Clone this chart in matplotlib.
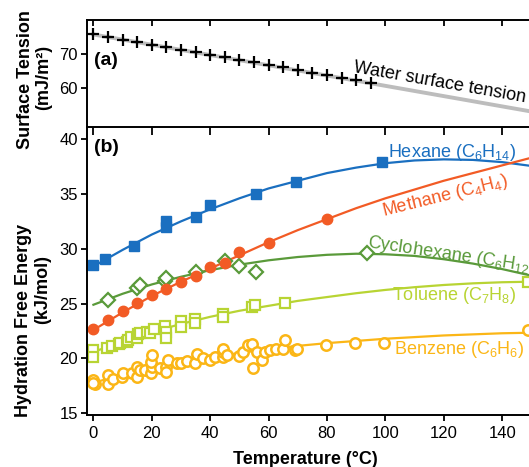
import matplotlib
matplotlib.use('Agg')
import matplotlib.pyplot as plt

plt.rcParams['font.family'] = ['Liberation Sans', 'DejaVu Sans']
plt.rcParams['mathtext.fontset'] = 'custom'
plt.rcParams['mathtext.rm'] = 'Liberation Sans'
plt.rcParams['mathtext.it'] = 'Liberation Sans:italic'
plt.rcParams['mathtext.bf'] = 'Liberation Sans:bold'

# --- (a) water surface tension ---
water_T = [0, 5, 10, 15, 20, 25, 30, 35, 40, 45, 50, 55, 60, 65, 70, 75, 80, 85, 90, 95]
water_st = [75.8, 75.1, 74.3, 73.5, 72.8, 72.0, 71.3, 70.5, 69.8, 69.0,
            68.2, 67.5, 66.7, 66.0, 65.2, 64.4, 63.7, 62.9, 62.2, 61.4]
water_line_T = [0, 150]
water_line_st = [75.8, 52.9]

# --- (b) hydration free energy, measured points ---
hexane_T = [0, 4, 14, 25, 25, 35, 40, 55.6, 69.4, 98.8]
hexane_G = [28.55, 29.05, 30.25, 32.0, 32.55, 32.9, 34.0, 35.0, 36.1, 37.9]

methane_T = [0, 5, 10, 15, 20, 25, 30, 35, 40, 45, 50, 60, 80]
methane_G = [22.7, 23.5, 24.3, 25.1, 25.75, 26.35, 26.95, 27.55, 28.35, 28.7, 29.7, 30.55, 32.7]

cyclohexane_T = [5, 15, 16, 24.5, 25, 35, 45, 50, 55.7, 93.8]
cyclohexane_G = [25.3, 26.4, 26.7, 27.1, 27.3, 27.9, 28.9, 28.4, 27.9, 29.65]

toluene_T = [0, 0, 4.6, 6.3, 8.6, 9.1, 11.4, 12, 13, 15, 15.4, 16, 18.3, 19.4, 20.8,
             24.5, 25, 25, 30, 30, 34.8, 34.8, 44.5, 44.5, 54.2, 55.4, 65.6, 149]
toluene_G = [20.8, 20.1, 20.95, 21.15, 21.3, 21.4, 21.5, 21.7, 22.0, 21.85, 22.2, 22.3, 22.45, 22.3, 22.65,
             22.95, 22.4, 21.9, 23.45, 22.85, 23.6, 23.25, 24.1, 23.8, 24.65, 24.85, 25.1, 27.0]

benzene_T = [0, 0.6, 0, 5.1, 5.1, 6.8, 9.7, 10.3, 13.1, 15, 15, 16, 17.7, 19.6, 20, 19.6, 20,
             22.8, 24.9, 24.9, 25.7, 28.6, 29.9, 32, 34.8, 35.4, 37.7, 40, 41.7, 44.5, 44.3,
             44.3, 45.7, 49.7, 51.4, 53.1, 54.2, 54.8, 55.9, 57.7, 58.8, 60.5, 62.6, 65, 65.6,
             69, 69.6, 79.7, 89.6, 99.5, 149]
benzene_G = [18.0, 17.65, 17.8, 18.5, 17.7, 18.1, 18.35, 18.65, 18.65, 19.25, 18.35, 18.95, 18.95, 18.65, 19.2, 19.7, 20.3,
             19.1, 19.2, 18.8, 19.85, 19.55, 19.6, 19.8, 19.55, 20.4, 20.0, 19.9, 20.15, 20.1, 20.6,
             20.9, 20.3, 20.2, 20.6, 21.2, 21.3, 19.1, 20.6, 19.9, 20.6, 20.75, 20.9, 20.9, 21.7,
             20.75, 20.9, 21.2, 21.45, 21.45, 22.6]

# --- fitted curves ---
fit_T = [0, 10, 20, 30, 40, 50, 60, 70, 80, 90, 100, 110, 120, 130, 140, 150]
hexane_fit = [28.4, 29.9, 31.3, 32.5, 33.6, 34.6, 35.5, 36.2, 36.9, 37.4, 37.8, 38.05, 38.15, 38.1, 37.9, 37.55]
methane_fit = [22.6, 24.2, 25.7, 27.0, 28.2, 29.4, 30.6, 31.7, 32.7, 33.7, 34.6, 35.4, 36.2, 36.9, 37.6, 38.3]
cyclohexane_fit = [24.9, 25.9, 26.75, 27.45, 28.05, 28.55, 28.95, 29.25, 29.45, 29.55, 29.5, 29.35, 29.05, 28.65, 28.15, 27.55]
toluene_fit = [20.6, 21.55, 22.4, 23.15, 23.8, 24.35, 24.8, 25.25, 25.6, 25.95, 26.25, 26.5, 26.7, 26.85, 26.95, 27.0]
benzene_fit = [17.8, 18.5, 19.1, 19.6, 20.1, 20.5, 20.85, 21.15, 21.4, 21.6, 21.8, 21.95, 22.1, 22.2, 22.3, 22.35]

x_ticks = [0, 20, 40, 60, 80, 100, 120, 140]

c_hex = '#1a6fc0'
c_met = '#f25b25'
c_cyc = '#5a9a3a'
c_tol = '#b8d433'
c_ben = '#fbb616'

fig = plt.figure(figsize=(5.29, 4.67), dpi=100)
ax_top = fig.add_axes([87 / 529, 1 - 127 / 467, 442 / 529, 107 / 467])
ax = fig.add_axes([87 / 529, 1 - 415 / 467, 442 / 529, 288 / 467], sharex=ax_top)

# panel (a)
ax_top.plot(water_line_T, water_line_st, color='#bdbdbd', lw=2.8, zorder=1)
ax_top.plot(water_T, water_st, '+', color='black', ms=9, mew=1.6, zorder=2)
ax_top.text(89, 64.6, 'Water surface tension', fontsize=13, rotation=-10,
            rotation_mode='anchor', ha='left', va='baseline')
ax_top.text(0.015, 0.62, '(a)', transform=ax_top.transAxes, fontsize=14,
            fontweight='bold', va='center')
ax_top.set_ylim(48.3, 80.1)
ax_top.set_yticks([60, 70])

# panel (b)
ax.plot(fit_T, hexane_fit, color=c_hex, lw=1.6)
ax.plot(fit_T, methane_fit, color=c_met, lw=1.6)
ax.plot(fit_T, cyclohexane_fit, color=c_cyc, lw=1.6)
ax.plot(fit_T, toluene_fit, color=c_tol, lw=1.6)
ax.plot(fit_T, benzene_fit, color=c_ben, lw=1.6)

ax.plot(benzene_T, benzene_G, 'o', ms=7.5, mfc='white', mec=c_ben, mew=1.8, ls='none')
ax.plot(toluene_T, toluene_G, 's', ms=7, mfc='white', mec=c_tol, mew=1.6, ls='none')
ax.plot(cyclohexane_T, cyclohexane_G, 'D', ms=7, mfc='white', mec=c_cyc, mew=1.6, ls='none')
ax.plot(methane_T, methane_G, 'o', ms=7.5, color=c_met, ls='none')
ax.plot(hexane_T, hexane_G, 's', ms=7.5, color=c_hex, ls='none')

ax.text(101, 38.8, 'Hexane (C$_6$H$_{14}$)', color=c_hex, fontsize=13, va='center')
ax.text(99.3, 33.0, 'Methane (C$_4$H$_4$)', color=c_met, fontsize=13, rotation=14,
        rotation_mode='anchor', va='baseline')
ax.text(93.5, 30.15, 'Cyclohexane (C$_6$H$_{12}$)', color=c_cyc, fontsize=13, rotation=-8.5,
        rotation_mode='anchor', va='baseline')
ax.text(102.4, 25.7, 'Toluene (C$_7$H$_8$)', color=c_tol, fontsize=13, va='center')
ax.text(102.8, 20.8, 'Benzene (C$_6$H$_6$)', color=c_ben, fontsize=13, va='center')
ax.text(0.015, 0.93, '(b)', transform=ax.transAxes, fontsize=14,
        fontweight='bold', va='center')

ax.set_xlim(-2.2, 149.2)
ax.set_ylim(14.85, 41.1)
ax.set_xticks(x_ticks)
ax.set_yticks([15, 20, 25, 30, 35, 40])

# axes styling
for a in (ax_top, ax):
    a.spines['right'].set_visible(False)
    for s in a.spines.values():
        s.set_linewidth(1.4)
    a.tick_params(axis='y', direction='out', length=4.5, width=1.3, pad=2, labelsize=12)
ax_top.spines['bottom'].set_visible(False)
ax_top.tick_params(axis='x', top=True, bottom=False, direction='in', length=4,
                   width=1.3, labelbottom=False)
ax.tick_params(axis='x', top=True, labelsize=12, width=1.3, direction='out', length=4, pad=4)
for t in ax.xaxis.get_major_ticks():
    t.tick2line.set_marker(3)  # inward tick on top edge
    t.tick2line.set_markersize(5.5)

# axis titles
fig.text(26 / 529, 1 - 80 / 467, 'Surface Tension', rotation=90, fontsize=13,
         fontweight='bold', ha='center', va='center')
fig.text(43.5 / 529, 1 - 77 / 467, '(mJ/m²)', rotation=90, fontsize=13,
         fontweight='bold', ha='center', va='center')
fig.text(23.5 / 529, 1 - 320 / 467, 'Hydration Free Energy', rotation=90, fontsize=13,
         fontweight='bold', ha='center', va='center')
fig.text(42.5 / 529, 1 - 290 / 467, '(kJ/mol)', rotation=90, fontsize=13,
         fontweight='bold', ha='center', va='center')
fig.text(305 / 529, 1 - 459 / 467, 'Temperature (°C)', fontsize=13,
         fontweight='bold', ha='center', va='center')

plt.savefig('out.png', dpi=100)
